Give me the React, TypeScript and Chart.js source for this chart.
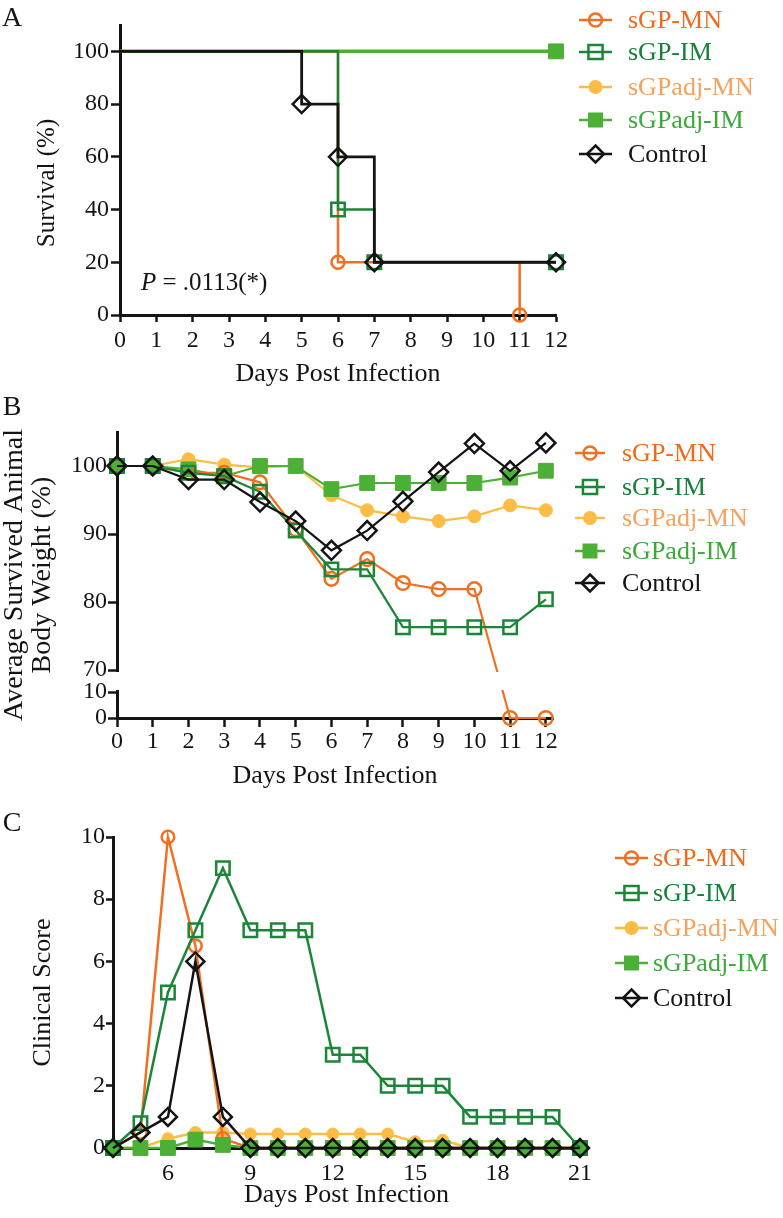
import React, { useEffect, useRef } from 'react';
import { Chart, registerables, LinearScale } from 'chart.js';

Chart.register(...registerables);

const INK = '#141414';
const FONT = '"Liberation Serif", "Times New Roman", Times, serif';
const W = 783;

// ---------- series ----------
const seriesNames = ['sGP-MN', 'sGP-IM', 'sGPadj-MN', 'sGPadj-IM', 'Control'];
const seriesColors = ['#f07022', '#1b8638', '#fcbd46', '#4caf36', '#141414'];
const seriesTextColors = ['#ef6a1c', '#17803a', '#f5a25e', '#3ba93a', '#141414'];
const seriesPointStyles = ['circle', 'rect', 'circle', 'rect', 'rectRot'];
const seriesFilled = [false, false, true, true, false];

// ---------- Panel A: survival ----------
const survDays_sGPMN = [0, 6, 11];
const surv_sGPMN = [100, 20, 0];
const survDays_sGPIM = [0, 6, 7, 12];
const surv_sGPIM = [100, 40, 20, 20];
const survDays_adjMN = [0, 12];
const surv_adjMN = [100, 100];
const survDays_adjIM = [0, 12];
const surv_adjIM = [100, 100];
const survDays_ctrl = [0, 5, 6, 7, 12];
const surv_ctrl = [100, 80, 60, 20, 20];
const survTicksX = [0, 1, 2, 3, 4, 5, 6, 7, 8, 9, 10, 11, 12];
const survTicksY = [0, 20, 40, 60, 80, 100];
const pValueLabel = ' = .0113(*)';

// ---------- Panel B: body weight ----------
const weightDays = [0, 1, 2, 3, 4, 5, 6, 7, 8, 9, 10, 11, 12];
const weight_sGPMN = [100, 100, 99, 99, 97.6, 90.7, 83.4, 86.3, 82.8, 81.9, 81.9, 0, 0];
const weight_sGPIM = [100, 100, 99, 98.5, 96.2, 90.5, 84.8, 84.8, 76.3, 76.3, 76.3, 76.3, 80.4];
const weight_adjMN = [100, 100, 101, 100.2, 99.8, 100, 95.7, 93.5, 92.6, 91.9, 92.6, 94.2, 93.5];
const weight_adjIM = [100, 100, 99.5, 98.5, 100, 100, 96.6, 97.5, 97.5, 97.5, 97.5, 98.3, 99.3];
const weight_ctrl = [100, 100, 98, 98, 94.7, 91.9, 87.6, 90.5, 94.8, 99.1, 103.3, 99.3, 103.4];
const weightTicksX = [0, 1, 2, 3, 4, 5, 6, 7, 8, 9, 10, 11, 12];
const weightTicksY = [0, 10, 70, 80, 90, 100];

// ---------- Panel C: clinical score ----------
const scoreDays = [4, 5, 6, 7, 8, 9, 10, 11, 12, 13, 14, 15, 16, 17, 18, 19, 20, 21];
const score_sGPMN = [0, 0.5, 10, 6.5, 0.3, 0, 0, 0, 0, 0, 0, 0, 0, 0, 0, 0, 0, 0];
const score_sGPIM = [0, 0.8, 5, 7, 9, 7, 7, 7, 3, 3, 2, 2, 2, 1, 1, 1, 1, 0];
const score_adjMN = [0, 0, 0.3, 0.5, 0.5, 0.45, 0.45, 0.45, 0.45, 0.45, 0.45, 0.2, 0.25, 0, 0, 0, 0, 0];
const score_adjIM = [0, 0, 0, 0.27, 0.1, 0, 0, 0, 0, 0, 0, 0, 0, 0, 0, 0, 0, 0];
const score_ctrl = [0, 0.5, 1, 6, 1, 0, 0, 0, 0, 0, 0, 0, 0, 0, 0, 0, 0, 0];
const scoreTicksX = [6, 9, 12, 15, 18, 21];
const scoreTicksY = [0, 2, 4, 6, 8, 10];

// ---------- broken linear scale ----------
class BrokenLinearScale extends LinearScale {
  static id = 'brokenLinear';
  static defaults = LinearScale.defaults;
  _seg() {
    const o: any = this.options;
    const total = this.bottom - this.top;
    const lowH = total * o.lowFraction;
    const gapH = total * o.gapFraction;
    return { lowH, gapH, highH: total - lowH - gapH, lo: o.breakLow, hi: o.breakHigh };
  }
  getPixelForValue(value: number) {
    const { lowH, gapH, highH, lo, hi } = this._seg();
    const b = this.bottom;
    if (value <= lo) return b - ((value - this.min) / (lo - this.min)) * lowH;
    if (value < hi) return b - lowH - ((value - lo) / (hi - lo)) * gapH;
    return b - lowH - gapH - ((value - hi) / (this.max - hi)) * highH;
  }
  getValueForPixel(pixel: number) {
    const { lowH, gapH, highH, lo, hi } = this._seg();
    const d = this.bottom - pixel;
    if (d <= lowH) return this.min + (d / lowH) * (lo - this.min);
    if (d <= lowH + gapH) return lo + ((d - lowH) / gapH) * (hi - lo);
    return hi + ((d - lowH - gapH) / highH) * (this.max - hi);
  }
}
Chart.register(BrokenLinearScale);

// ---------- helpers ----------
function drawMarker(ctx: CanvasRenderingContext2D, i: number, x: number, y: number, r: number) {
  ctx.save();
  ctx.beginPath();
  const st = seriesPointStyles[i];
  if (st === 'circle') {
    ctx.arc(x, y, r, 0, Math.PI * 2);
  } else if (st === 'rect') {
    const h = r * Math.SQRT1_2;
    ctx.rect(x - h, y - h, 2 * h, 2 * h);
  } else {
    ctx.moveTo(x, y - r);
    ctx.lineTo(x + r, y);
    ctx.lineTo(x, y + r);
    ctx.lineTo(x - r, y);
    ctx.closePath();
  }
  if (seriesFilled[i]) {
    ctx.fillStyle = seriesColors[i];
    ctx.fill();
  } else {
    ctx.strokeStyle = seriesColors[i];
    ctx.lineWidth = 2.5;
    ctx.stroke();
  }
  ctx.restore();
}

function makeLegendPlugin(cfg: { x0: number; x1: number; textX: number; ys: number[]; radii: number[] }) {
  return {
    id: 'seriesLegend',
    afterDraw(chart: any) {
      const ctx = chart.ctx as CanvasRenderingContext2D;
      seriesNames.forEach((name, i) => {
        const y = cfg.ys[i];
        ctx.save();
        ctx.strokeStyle = seriesColors[i];
        ctx.lineWidth = 2.5;
        ctx.beginPath();
        ctx.moveTo(cfg.x0, y);
        ctx.lineTo(cfg.x1, y);
        ctx.stroke();
        ctx.restore();
        drawMarker(ctx, i, (cfg.x0 + cfg.x1) / 2, y, cfg.radii[i]);
        ctx.save();
        ctx.fillStyle = seriesTextColors[i];
        ctx.font = `26px ${FONT}`;
        ctx.textBaseline = 'middle';
        ctx.textAlign = 'left';
        ctx.fillText(name, cfg.textX, y + 1);
        ctx.restore();
      });
    },
  };
}

type TextRun = { text: string; font: string };
type TextItem = { runs: TextRun[]; x: number; y: number; rotate?: number; align?: 'left' | 'center'; baseline?: CanvasTextBaseline };

function makeTextPlugin(items: TextItem[]) {
  return {
    id: 'extraText',
    afterDraw(chart: any) {
      const ctx = chart.ctx as CanvasRenderingContext2D;
      items.forEach((it) => {
        ctx.save();
        ctx.translate(it.x, it.y);
        if (it.rotate) ctx.rotate(it.rotate);
        ctx.fillStyle = INK;
        ctx.textBaseline = it.baseline || 'middle';
        ctx.textAlign = 'left';
        let total = 0;
        it.runs.forEach((r) => {
          ctx.font = r.font;
          total += ctx.measureText(r.text).width;
        });
        let cx = it.align === 'center' ? -total / 2 : 0;
        it.runs.forEach((r) => {
          ctx.font = r.font;
          ctx.fillText(r.text, cx, 0);
          cx += ctx.measureText(r.text).width;
        });
        ctx.restore();
      });
    },
  };
}

function makeBreakPlugin(lo: number, hi: number) {
  return {
    id: 'axisBreak',
    afterDatasetsDraw(chart: any) {
      const ys = chart.scales.y;
      const ctx = chart.ctx as CanvasRenderingContext2D;
      const pTop = ys.getPixelForValue(hi) + 2;
      const pBot = ys.getPixelForValue(lo) - 2;
      ctx.save();
      ctx.fillStyle = '#ffffff';
      ctx.fillRect(chart.chartArea.left - 4, pTop, chart.chartArea.right - chart.chartArea.left + 8, pBot - pTop);
      ctx.restore();
    },
  };
}

function makeDataset(i: number, xs: number[], ys: number[], radius: number, lineWidth: number, extra: any = {}) {
  return {
    label: seriesNames[i],
    data: xs.map((x, k) => ({ x, y: ys[k] })),
    borderColor: seriesColors[i],
    borderWidth: lineWidth,
    pointStyle: seriesPointStyles[i],
    pointRadius: extra.hideFirst ? xs.map((_, k) => (k === 0 ? 0 : radius)) : radius,
    pointBorderColor: seriesColors[i],
    pointBackgroundColor: seriesFilled[i] ? seriesColors[i] : 'rgba(0,0,0,0)',
    pointBorderWidth: seriesFilled[i] ? 1 : 2.5,
    stepped: extra.stepped || false,
    clip: false,
    fill: false,
    tension: 0,
  };
}

function axis(tickLen: number, pad: number, drawTicks: boolean, ticks: number[], fit: (s: any) => void) {
  return {
    grid: { display: true, drawOnChartArea: false, drawTicks, tickLength: tickLen, tickWidth: 2.5, tickColor: INK },
    border: { display: true, color: INK, width: 3 },
    ticks: { color: INK, padding: pad, font: { family: FONT, size: 24 }, maxRotation: 0, autoSkip: false },
    afterBuildTicks: (s: any) => {
      s.ticks = ticks.map((v) => ({ value: v }));
    },
    afterFit: fit,
  };
}

function baseOptions(H: number, left: number, right: number, top: number, bottom: number) {
  return {
    responsive: false,
    animation: false,
    devicePixelRatio: 1,
    events: [],
    layout: { padding: { left: 0, right: W - right, top, bottom: 0 } },
    plugins: { legend: { display: false }, tooltip: { enabled: false } },
    _fitY: (s: any) => { s.width = left; },
    _fitX: (s: any) => { s.height = H - bottom; },
  };
}

// ---------- panel builders ----------
function buildA() {
  const H = 390, left = 120, right = 556, top = 25, bottom = 315;
  const b: any = baseOptions(H, left, right, top, bottom);
  const r = [6.5, 9.5, 6.5, 10.5, 9];
  const order: [number, number[], number[], number][] = [
    [4, survDays_ctrl, surv_ctrl, 2.8],
    [1, survDays_sGPIM, surv_sGPIM, 2.5],
    [0, survDays_sGPMN, surv_sGPMN, 2.5],
    [3, survDays_adjIM, surv_adjIM, 3.5],
    [2, survDays_adjMN, surv_adjMN, 2.5],
  ];
  return {
    type: 'line',
    data: {
      datasets: order.map(([i, xs, ys, lw]) => makeDataset(i, xs, ys, r[i], lw, { stepped: 'before', hideFirst: true })),
    },
    options: {
      ...b,
      scales: {
        x: {
          type: 'linear', min: 0, max: 12,
          ...axis(7, 4, true, survTicksX, b._fitX),
          title: { display: true, text: 'Days Post Infection', color: INK, font: { family: FONT, size: 26, lineHeight: 1.2 }, padding: { top: 0, bottom: 0.4 } },
        },
        y: {
          type: 'linear', min: 0, max: 110,
          ...axis(9, 2, true, survTicksY, b._fitY),
        },
      },
    },
    plugins: [
      makeLegendPlugin({ x0: 579, x1: 612, textX: 628, ys: [20, 52, 87, 120, 154], radii: [6.5, 10, 7, 10.6, 8.5] }),
      makeTextPlugin([
        { runs: [{ text: 'A', font: `28px ${FONT}` }], x: 12, y: 19, align: 'center' },
        { runs: [{ text: 'Survival (%)', font: `25px ${FONT}` }], x: 47, y: 183, rotate: -Math.PI / 2, align: 'center' },
        { runs: [{ text: 'P', font: `italic 25px ${FONT}` }, { text: pValueLabel, font: `25px ${FONT}` }], x: 141, y: 290, baseline: 'alphabetic' },
      ]),
    ],
  };
}

function buildB() {
  const H = 410, left = 117, right = 553, top = 42, bottom = 328;
  const b: any = baseOptions(H, left, right, top, bottom);
  const r = [6.8, 9.5, 6.5, 10.5, 9.5];
  const order: [number, number[]][] = [
    [4, weight_ctrl],
    [1, weight_sGPIM],
    [0, weight_sGPMN],
    [3, weight_adjIM],
    [2, weight_adjMN],
  ];
  return {
    type: 'line',
    data: {
      datasets: order.map(([i, ys]) => makeDataset(i, weightDays, ys, r[i], 2.2)),
    },
    options: {
      ...b,
      scales: {
        x: {
          type: 'linear', min: 0, max: 12.2,
          ...axis(9, 0, true, weightTicksX, b._fitX),
          title: { display: true, text: 'Days Post Infection', color: INK, font: { family: FONT, size: 26, lineHeight: 1.2 }, padding: { top: 0, bottom: 8.4 } },
        },
        y: {
          type: 'brokenLinear', min: 0, max: 105,
          breakLow: 10, breakHigh: 70, lowFraction: 26 / 286, gapFraction: 22 / 286,
          ...axis(9, 1, true, weightTicksY, b._fitY),
          title: { display: true, text: ['Average Survived Animal', 'Body Weight (%)'], color: INK, font: { family: FONT, size: 28, lineHeight: 1.0 }, padding: { top: 1, bottom: 0 } },
        },
      },
    },
    plugins: [
      makeBreakPlugin(10, 70),
      makeLegendPlugin({ x0: 575, x1: 605, textX: 622, ys: [63, 97, 128, 161, 193], radii: [6.5, 10, 7, 10.6, 8.5] }),
      makeTextPlugin([{ runs: [{ text: 'B', font: `28px ${FONT}` }], x: 12, y: 18, align: 'center' }]),
    ],
  };
}

function buildC() {
  const H = 418, left = 113, right = 580, top = 37, bottom = 348;
  const b: any = baseOptions(H, left, right, top, bottom);
  const r = [6.3, 9.5, 6, 10.5, 9];
  const order: [number, number[]][] = [
    [4, score_ctrl],
    [1, score_sGPIM],
    [3, score_adjIM],
    [0, score_sGPMN],
    [2, score_adjMN],
  ];
  return {
    type: 'line',
    data: {
      datasets: order.map(([i, ys]) => makeDataset(i, scoreDays, ys, r[i], 2.5)),
    },
    options: {
      ...b,
      scales: {
        x: {
          type: 'linear', min: 4, max: 21,
          ...axis(0, 11, false, scoreTicksX, b._fitX),
          title: { display: true, text: 'Days Post Infection', color: INK, font: { family: FONT, size: 26, lineHeight: 1.2 }, padding: { top: 0, bottom: 7.4 } },
        },
        y: {
          type: 'linear', min: 0, max: 10,
          ...axis(7, 1, true, scoreTicksY, b._fitY),
          title: { display: true, text: 'Clinical Score', color: INK, font: { family: FONT, size: 26, lineHeight: 1.2 }, padding: { top: 27.4, bottom: 0 } },
        },
      },
    },
    plugins: [
      makeLegendPlugin({ x0: 615, x1: 648, textX: 653, ys: [58, 93, 128, 163, 198], radii: [6.5, 10, 7, 10.6, 8.5] }),
      makeTextPlugin([{ runs: [{ text: 'C', font: `28px ${FONT}` }], x: 12, y: 24, align: 'center' }]),
    ],
  };
}

function ChartCanvas({ top, height, build }: { top: number; height: number; build: () => any }) {
  const ref = useRef<HTMLCanvasElement>(null);
  useEffect(() => {
    const cfg = build();
    const chart = new Chart(ref.current as HTMLCanvasElement, cfg);
    return () => chart.destroy();
  }, []);
  return (
    <canvas
      ref={ref}
      width={W}
      height={height}
      style={{ position: 'absolute', left: 0, top, width: W, height, display: 'block' }}
    />
  );
}

export default function App() {
  return (
    <div style={{ position: 'absolute', left: 0, top: 0, width: W, height: 1218, background: '#ffffff', overflow: 'hidden' }}>
      <ChartCanvas top={0} height={390} build={buildA} />
      <ChartCanvas top={390} height={410} build={buildB} />
      <ChartCanvas top={800} height={418} build={buildC} />
    </div>
  );
}
